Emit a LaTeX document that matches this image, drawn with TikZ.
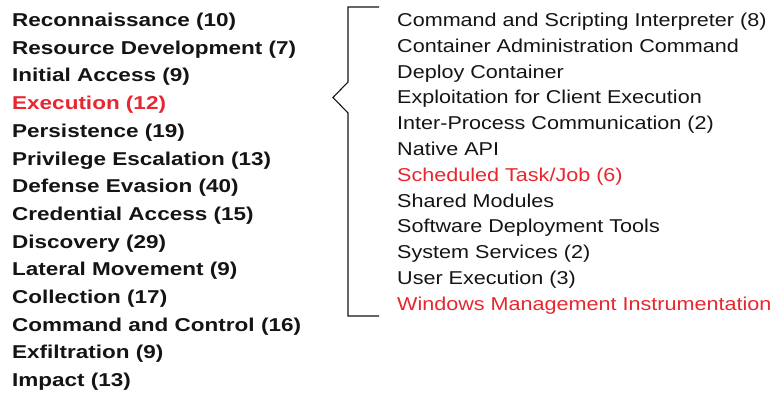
\documentclass[tikz,border=0pt]{standalone}
\usepackage{fontspec}
\newfontfamily\tacticfont[FakeStretch=1.21]{Liberation Sans Bold}
\newfontfamily\techfont[FakeStretch=1.16]{Liberation Sans}
\definecolor{hilite}{RGB}{232,38,46}
\definecolor{ink}{RGB}{20,20,20}
\begin{document}
\begin{tikzpicture}[x=1pt,y=-1pt,
  tactic/.style={anchor=base west,inner sep=0pt,text=ink,font=\tacticfont\fontsize{18.6}{20}\selectfont},
  tech/.style={anchor=base west,inner sep=0pt,text=ink,font=\techfont\fontsize{18.6}{20}\selectfont},
  brace/.style={draw=ink,line width=1.1pt,line join=miter}]
\useasboundingbox (0,0) rectangle (773,392);
% tactics column
\foreach \t [count=\i from 0] in {Reconnaissance (10),Resource Development (7),Initial Access (9),
  {\color{hilite}Execution (12)},Persistence (19),Privilege Escalation (13),Defense Evasion (40),
  Credential Access (15),Discovery (29),Lateral Movement (9),Collection (17),
  Command and Control (16),Exfiltration (9),Impact (13)}
  \node[tactic] (tac\i) at (12,26.5+27.7*\i) {\t};
% techniques column
\foreach \t [count=\i from 0] in {Command and Scripting Interpreter (8),Container Administration Command,
  Deploy Container,Exploitation for Client Execution,Inter-Process Communication (2),Native API,
  {\color{hilite}Scheduled Task/Job (6)},Shared Modules,Software Deployment Tools,System Services (2),
  User Execution (3),{\color{hilite}Windows Management Instrumentation}}
  \node[tech] (tech\i) at (397,26.5+25.8*\i) {\t};
% brace grouping the Execution techniques
\coordinate (bt) at (379,7);
\coordinate (bb) at (379,316);
\coordinate (tip) at (333,97.5);
\draw[brace] (bt) -- (348,7) -- (348,82) -- (tip) -- (348,113) -- (348,316) -- (bb);
\end{tikzpicture}
\end{document}
